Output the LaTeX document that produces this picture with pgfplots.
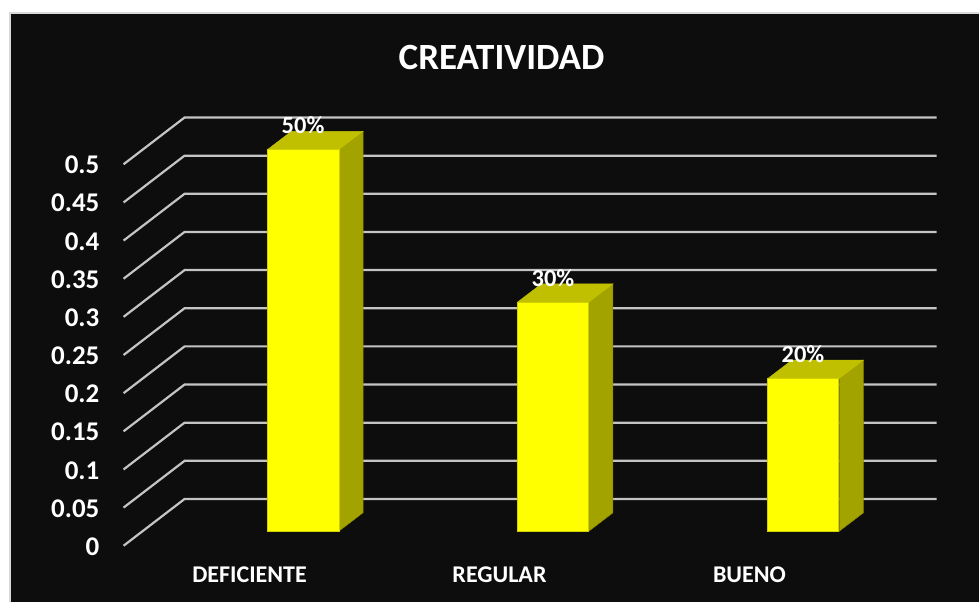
\documentclass[border=0pt]{standalone}
\usepackage{pgfplots}
\pgfplotsset{compat=1.18}
\usepackage{fontspec}
\setmainfont{Carlito}

\definecolor{panel}{HTML}{0D0D0D}
\definecolor{wallgrid}{HTML}{C4C4C4}
\definecolor{barfront}{HTML}{FFFF00}
\definecolor{barside}{HTML}{A3A300}
\definecolor{bartop}{HTML}{C0C000}
\definecolor{baredge}{HTML}{D0D000}
\definecolor{panelrim}{HTML}{D9D9D9}

\pgfplotstableread{
pos  valor
303  0.5
553  0.3
803  0.2
}\creatividad

\begin{document}
\begin{tikzpicture}
\begin{axis}[
  scale only axis,
  width=979pt, height=602pt,
  xmin=0, xmax=979,
  ymin=-0.0737, ymax=0.7152,
  clip=false,
  axis on top,
  axis line style={draw=none},
  axis background/.style={fill=white},
  major tick length=0pt,
  xtick={303,553,803},
  xticklabels={DEFICIENTE,REGULAR,BUENO},
  xticklabel style={font=\fontsize{24}{24}\selectfont\bfseries, text=white, anchor=center, xshift=-53.5pt, yshift=27pt},
  ytick={0,0.05,0.1,0.15,0.2,0.25,0.3,0.35,0.4,0.45,0.5},
  yticklabel style={font=\fontsize{27}{27}\selectfont\bfseries, text=white, anchor=east, inner sep=0pt, xshift=99.5pt, yshift=-0.8pt,
    /pgf/number format/assume math mode=true, /pgf/number format/fixed, /pgf/number format/precision=2},
  title={CREATIVIDAD},
  title style={font=\fontsize{37}{37}\selectfont\bfseries, text=white, at={(axis cs:501.5,0.6327)}, anchor=center},
  front/.style={yshift=14.7pt},
]
% Dark panel with its pale rim
\fill[panelrim] (axis cs:8.5,-0.0737) rectangle (axis cs:979,0.6995);
\fill[panel] (axis cs:10.5,-0.0737) rectangle (axis cs:979,0.6970);

% Floor-to-wall guides and wall gridlines
\pgfplotsinvokeforeach{0,0.05,0.1,0.15,0.2,0.25,0.3,0.35,0.4,0.45,0.5}{
  \addplot[wallgrid, line width=2.2pt, forget plot] coordinates {
    (123.5,#1) (184.5,#1+0.0613) (936.7,#1+0.0613)
  };
}

% DEFICIENTE: side and top faces
\addplot[front, fill=barside, draw=barside!85!black, line width=0.5pt] coordinates {(339,0) (363,0.024) (363,0.524) (339,0.5)} --cycle;
\addplot[front, fill=bartop, draw=bartop, line width=0.5pt] coordinates {(267.5,0.5) (339,0.5) (363,0.524) (291.5,0.524)} --cycle;
% REGULAR
\addplot[front, fill=barside, draw=barside!85!black, line width=0.5pt] coordinates {(589,0) (613,0.024) (613,0.324) (589,0.3)} --cycle;
\addplot[front, fill=bartop, draw=bartop, line width=0.5pt] coordinates {(517.5,0.3) (589,0.3) (613,0.324) (541.5,0.324)} --cycle;
% BUENO
\addplot[front, fill=barside, draw=barside!85!black, line width=0.5pt] coordinates {(839.5,0) (863.5,0.024) (863.5,0.224) (839.5,0.2)} --cycle;
\addplot[front, fill=bartop, draw=bartop, line width=0.5pt] coordinates {(768,0.2) (839.5,0.2) (863.5,0.224) (792,0.224)} --cycle;

% Front faces, labelled with their share
\addplot[
  ybar, bar width=71.5pt, bar shift=0pt, front,
  fill=barfront, draw=baredge, line width=0.5pt,
  point meta={y*100},
  nodes near coords={\pgfmathprintnumber[fixed,precision=0,assume math mode=true]{\pgfplotspointmeta}\%},
  every node near coord/.append style={font=\fontsize{24.5}{24.5}\selectfont\bfseries, text=white, anchor=center, inner sep=0pt, yshift=24pt},
] table[x=pos, y=valor] {\creatividad};
\end{axis}
\end{tikzpicture}
\end{document}
